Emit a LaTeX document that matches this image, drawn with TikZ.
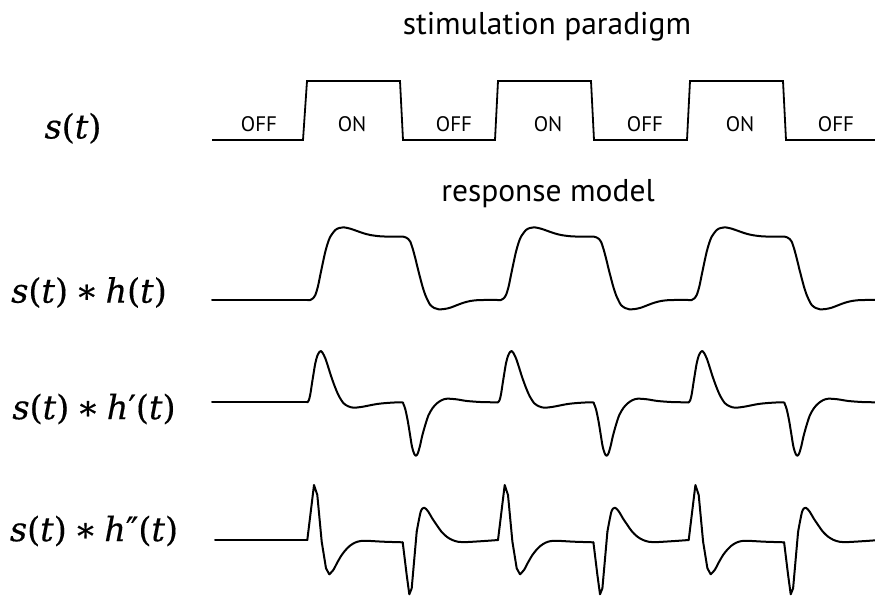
\documentclass[tikz,border=0pt]{standalone}
\usepackage{fontspec}
\setmainfont{PT Sans}
\newfontfamily\eqfont[FakeBold=0.4, ItalicFeatures={FakeBold=0.4}]{DejaVu Serif}
\newcommand\convop{\hspace{0.22em}∗\hspace{0.22em}}
\begin{document}
\begin{tikzpicture}[x=1pt,y=-1pt]
\tikzset{
  wave/.style={line width=2pt, line join=round, line cap=round},
  sq/.style={line width=1.8pt, line join=miter},
  heading/.style={font=\fontsize{31.5}{36}\selectfont, anchor=base, inner sep=0},
  phase/.style={font=\fontsize{21}{24}\selectfont, anchor=base, inner sep=0},
  eq/.style={font=\eqfont\fontsize{33.5}{40}\selectfont, anchor=center, inner sep=0},
}
\useasboundingbox (0,0) rectangle (875,596);
\clip (0,0) rectangle (875,596);

% headings
\node[heading] (hstim) at (547,35) {stimulation paradigm};
\node[heading] (hresp) at (548,201.7) {response model};

% row labels
\node[eq] (ls)   at (73,128.3) {\textit{s}(\textit{t})};
\node[eq] (lh)   at (89,292.5) {\textit{s}(\textit{t})\convop\textit{h}(\textit{t})};
\node[eq] (ldh)  at (94,409)   {\textit{s}(\textit{t})\convop\textit{h}′(\textit{t})};
\node[eq] (lddh) at (94,531)   {\textit{s}(\textit{t})\convop\textit{h}″(\textit{t})};

% block design
\draw[sq] (212,140) -- (303,140) -- (307,81) -- (400,81) -- (403,140)
  -- (495,140) -- (498,81) -- (591,81) -- (594,140)
  -- (687,140) -- (690,81) -- (783,81) -- (786,140) -- (876,140);
\foreach \x/\n in {259/off1,454/off2,645/off3,836/off4}
  \node[phase] (\n) at (\x,131.7) {OFF};
\foreach \x/\n in {352/on1,548/on2,740/on3}
  \node[phase] (\n) at (\x,131.7) {ON};

% response: s(t)*h(t)
\draw[wave] (212,300) -- (307.3,300);
\foreach \o in {307.3,498,688.7}{
  \begin{scope}[shift={(\o,300)}]
  \draw[wave] plot[smooth,tension=0.5] coordinates {
    (0,0) (3,0) (5.5,-1.5) (8,-5) (10.5,-13) (13,-25) (15.5,-37) (18,-48.3)
    (20.5,-57) (23,-63.3) (28,-70) (32,-72) (36.3,-72.7) (43,-71.3) (49.7,-69)
    (56,-66.8) (63,-65) (73,-63.7) (85,-63.3) (96,-63.3) (98.5,-62.6) (101,-61)
    (103,-58.3) (105.5,-51) (108,-41.7) (110.5,-31.5) (113,-21.7) (115.5,-12.5)
    (118,-5) (120.5,0.5) (123,5) (127,8) (131.3,9.3) (137,9) (143,7.7) (150,5)
    (156.3,2.7) (163,1) (169.7,0.2) (176,0) (190.7,0)};
  \end{scope}}

% response: s(t)*h'(t)
\draw[wave] (212,402.3) -- (307.3,402.3);
\foreach \o in {307.3,498,688.7}{
  \begin{scope}[shift={(\o,402.3)}]
  \draw[wave] plot[smooth,tension=0.5] coordinates {
    (0,0) (1.5,-2) (3,-8) (4.7,-19) (6.3,-29) (8,-39) (10,-46.5) (12.2,-50.5)
    (13.7,-51.3) (15.3,-49.5) (18,-44) (21,-35) (23.5,-27) (26.3,-19) (29,-12)
    (32,-5.5) (36.3,1) (41,4) (46.3,5.4) (55,4.5) (69.7,1.7) (82,0.5) (94.5,0)
    (96,1.5) (98,7) (100.3,17.7) (102.5,31) (104.7,44.4) (106.9,51.5) (108.7,53.4)
    (110.5,51) (112.7,43.5) (114.7,34.4) (118,22.5) (121.3,12.7) (125.5,5.5)
    (129.7,1) (134.5,-2.2) (139.7,-3.6) (149,-3) (159.7,-1.3) (175,-0.2) (190.7,0)};
  \end{scope}}

% response: s(t)*h''(t)
\draw[wave] (215,540) -- (307.3,540);
\foreach \o in {307.3,498,688.7}{
  \begin{scope}[shift={(\o,540.5)}]
  \draw[wave] (0,-0.5) -- (6.7,-55.5) -- (10,-45.5) -- (14.4,1.2) -- (18.7,27.8)
    -- (22,33.8);
  \draw[wave] plot[smooth,tension=0.5] coordinates {
    (22,33.8) (26,29.5) (30,22) (34.4,14.5) (38.5,9.3) (42.7,5.2) (47.5,2.2)
    (52.7,0.6) (59.4,0.3) (76,1.2) (95.4,1.8)};
  \draw[wave] (95.4,1.8) -- (99.4,34.5) -- (102,53.8) -- (104.4,47.8) -- (109.4,-8.8);
  \draw[wave] plot[smooth,tension=0.5] coordinates {
    (109.4,-8.8) (113.4,-28.8) (117,-32.8) (121,-28.8) (125,-22) (129.4,-15.5)
    (134,-9) (139.4,-3.8) (145,-0.5) (151,1.3) (158,1.6) (166,1.2) (180,0.3)
    (190.7,-0.5)};
  \end{scope}}
\end{tikzpicture}
\end{document}
